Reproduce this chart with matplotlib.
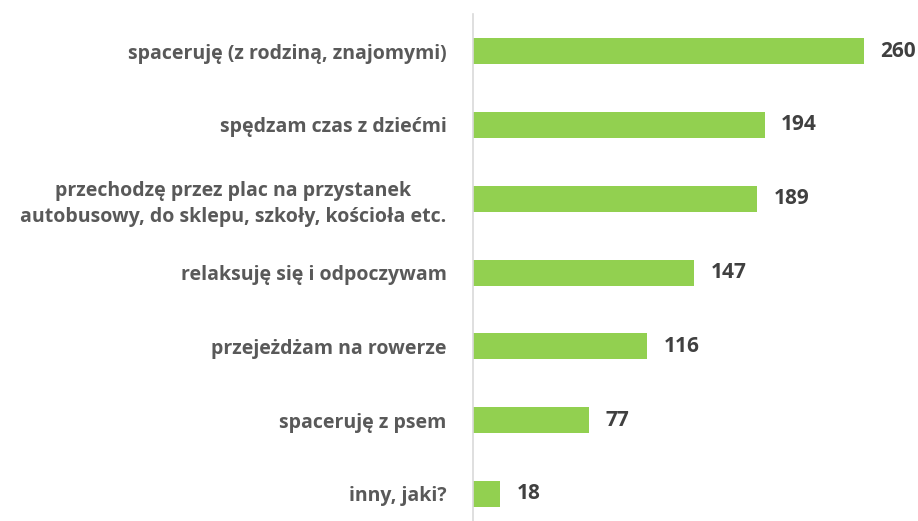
import matplotlib.pyplot as plt

# Data
categories = [
    'spaceruję (z rodziną, znajomymi)',
    'spędzam czas z dziećmi',
    'przechodzę przez plac na przystanek\nautobusowy, do sklepu, szkoły, kościoła etc.',
    'relaksuję się i odpoczywam',
    'przejeżdżam na rowerze',
    'spaceruję z psem',
    'inny, jaki?',
]
values = [260, 194, 189, 147, 116, 77, 18]

plt.rcParams['font.family'] = ['Open Sans', 'DejaVu Sans']

fig = plt.figure(figsize=(9.18, 5.21), dpi=100)
ax = fig.add_axes([473 / 918, -0.019, 445 / 918, 0.9916])

pos = list(range(len(categories)))
ax.barh(pos, values, height=0.35, color='#92D050')
ax.set_ylim(len(categories) - 0.5, -0.5)
ax.set_xlim(0, 296)

for y, v in zip(pos, values):
    ax.text(v + 11, y, str(v), va='center', ha='left', fontsize=15,
            fontweight='bold', color='#404040')

ax.set_yticks(pos)
ax.set_yticklabels(categories, fontsize=14, fontweight='bold', color='#595959',
                   ha='right', multialignment='center', linespacing=1.35)
ax.tick_params(axis='y', length=0, pad=19)
ax.set_xticks([])

for s in ['top', 'right', 'bottom']:
    ax.spines[s].set_visible(False)
ax.spines['left'].set_color('#D9D9D9')
ax.spines['left'].set_linewidth(1.2)

fig.savefig('out.png', dpi=100)
